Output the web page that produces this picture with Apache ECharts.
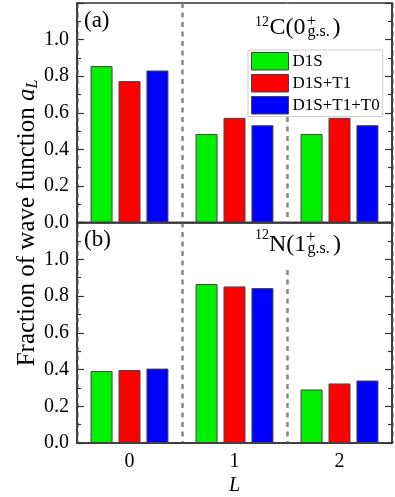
<!DOCTYPE html>
<html>
<head>
<meta charset="utf-8">
<script src="https://cdn.jsdelivr.net/npm/echarts@6/dist/echarts.min.js"></script>
<style>
html,body{margin:0;padding:0;background:#fff;}
#chart{width:395px;height:497px;}
</style>
</head>
<body>
<div id="chart"></div>
<script>
// ---- data ----
var categories = ['0', '1', '2'];
var seriesNames = ['D1S', 'D1S+T1', 'D1S+T1+T0'];
// panel (a): 12C(0+ g.s.)
var c12_D1S       = [0.855, 0.484, 0.484];
var c12_D1S_T1    = [0.773, 0.572, 0.572];
var c12_D1S_T1_T0 = [0.831, 0.532, 0.532];
// panel (b): 12N(1+ g.s.)
var n12_D1S       = [0.392, 0.865, 0.291];
var n12_D1S_T1    = [0.397, 0.852, 0.324];
var n12_D1S_T1_T0 = [0.405, 0.843, 0.340];
// y axis
var yMin = 0, yMax = 1.2, yStep = 0.2;

var colors = ['#00f000', '#ff0000', '#0000ff'];
var FONT = '"Liberation Serif", "Times New Roman", serif';
var AX = '#333';

var chart = echarts.init(document.getElementById('chart'), null, {renderer: 'canvas'});

function xAxisCfg(gi, showLabels) {
  return {
    type: 'category', gridIndex: gi, data: categories, boundaryGap: true,
    axisLine: {show: true, lineStyle: {color: AX, width: 1.5}},
    axisTick: {show: false},
    axisLabel: {show: showLabels, fontFamily: FONT, fontSize: 20, color: '#000', margin: 9},
    splitLine: {show: true, lineStyle: {color: '#888', width: 2.5, type: [5, 4.5]}},
    name: showLabels ? 'L' : '',
    nameLocation: 'middle', nameGap: 33,
    nameTextStyle: {fontFamily: FONT, fontSize: 20, fontStyle: 'italic', color: '#000'}
  };
}
function yAxisCfg(gi, pos, showLabels) {
  return {
    type: 'value', gridIndex: gi, position: pos, min: yMin, max: yMax, interval: yStep,
    axisLine: {show: true, lineStyle: {color: AX, width: 1.5}},
    axisTick: {show: true, inside: true, length: 7, lineStyle: {color: AX, width: 1.2}},
    minorTick: {show: true, splitNumber: 2, length: 4, lineStyle: {color: AX, width: 1.2}},
    axisLabel: {show: showLabels, showMaxLabel: false, fontFamily: FONT, fontSize: 20, color: '#000', margin: 8,
      formatter: function (v) { return v.toFixed(1); }},
    splitLine: {show: false}
  };
}
function barSeries(name, data, idx, gi) {
  return {
    name: name, type: 'bar', xAxisIndex: gi, yAxisIndex: gi * 2, data: data,
    barWidth: 22, barGap: '27%',
    itemStyle: {color: colors[idx], borderColor: '#444', borderWidth: 1},
    emphasis: {disabled: true}
  };
}
function txt(x, y, s, size) {
  return {type: 'text', z: 11, x: x, y: y,
    style: {text: s, font: size + 'px ' + FONT, fill: '#000', verticalAlign: 'middle', align: 'left'}};
}

var option = {
  animation: false,
  backgroundColor: '#fff',
  grid: [
    {left: 77, right: 3, top: 3, height: 219.5, show: true, borderColor: AX, borderWidth: 1.5, backgroundColor: 'transparent'},
    {left: 77, right: 3, top: 222.5, height: 220.5, show: true, borderColor: AX, borderWidth: 1.5, backgroundColor: 'transparent'}
  ],
  xAxis: [xAxisCfg(0, false), xAxisCfg(1, true)],
  yAxis: [yAxisCfg(0, 'left', true), yAxisCfg(0, 'right', false), yAxisCfg(1, 'left', true), yAxisCfg(1, 'right', false)],
  legend: {
    data: seriesNames, orient: 'vertical', left: 248, top: 50,
    itemWidth: 37, itemHeight: 17.5, itemGap: 3.5, icon: 'rect',
    backgroundColor: '#fff', borderColor: '#ccc', borderWidth: 1, padding: [2, 3, 2, 3],
    itemStyle: {borderColor: '#444', borderWidth: 1},
    textStyle: {fontFamily: FONT, fontSize: 17, lineHeight: 17.5, color: '#000', padding: [0, 0, 0, -1]},
    selectedMode: false, z: 20
  },
  series: [
    barSeries(seriesNames[0], c12_D1S, 0, 0),
    barSeries(seriesNames[1], c12_D1S_T1, 1, 0),
    barSeries(seriesNames[2], c12_D1S_T1_T0, 2, 0),
    barSeries(seriesNames[0], n12_D1S, 0, 1),
    barSeries(seriesNames[1], n12_D1S_T1, 1, 1),
    barSeries(seriesNames[2], n12_D1S_T1_T0, 2, 1)
  ],
  graphic: [
    // white boxes behind panel titles
    {type: 'rect', z: 10, shape: {x: 250, y: 4, width: 96, height: 46}, style: {fill: '#fff'}},
    {type: 'rect', z: 10, shape: {x: 250, y: 224, width: 96, height: 46}, style: {fill: '#fff'}},
    // panel labels
    txt(84, 20.5, '(a)', 23),
    txt(84, 239.7, '(b)', 23),
    // 12C(0+ g.s.)
    txt(255, 21.9, '12', 14),
    txt(269.5, 27.3, 'C(0', 24),
    txt(306.5, 22, '+', 17),
    txt(307.5, 31.6, 'g.s.', 16),
    txt(332.5, 27.3, ')', 24),
    // 12N(1+ g.s.)
    txt(255, 235.2, '12', 14),
    txt(269, 245.1, 'N(1', 24),
    txt(306, 237.5, '+', 17),
    txt(307.5, 248.3, 'g.s.', 16),
    txt(333, 245.1, ')', 24),
    // y axis title
    {type: 'text', z: 11, x: 27, y: 223, rotation: Math.PI / 2,
      style: {
        text: 'Fraction of wave function {a|a}{s|L}',
        fontFamily: FONT, fontSize: 25, fill: '#000',
        align: 'center', verticalAlign: 'middle',
        rich: {
          a: {fontFamily: FONT, fontSize: 25, fontStyle: 'italic', lineHeight: 28},
          s: {fontFamily: FONT, fontSize: 16, fontStyle: 'italic', verticalAlign: 'bottom', lineHeight: 28, padding: [10, 0, 0, 0]}
        }
      }}
  ]
};
chart.setOption(option);
</script>
</body>
</html>
